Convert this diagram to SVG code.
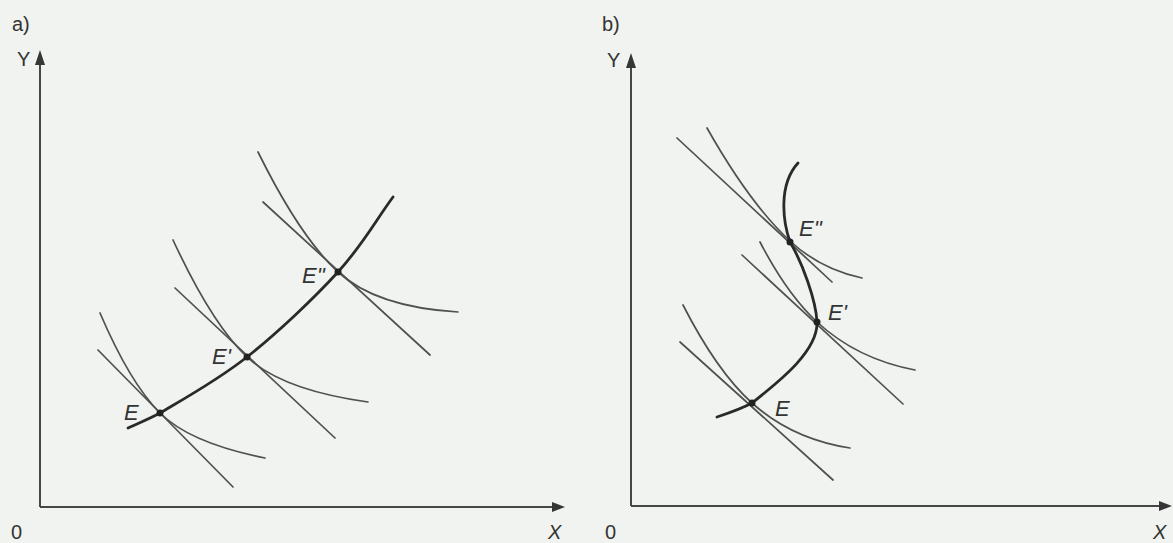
<svg xmlns="http://www.w3.org/2000/svg" width="1173" height="543" viewBox="0 0 1173 543">
  <defs>
    <style>
      .axis { stroke: #464646; stroke-width: 2; fill: none; }
      .arrow { fill: #363636; }
      .path { stroke: #2a2a2a; stroke-width: 2.8; fill: none; stroke-linecap: round; }
      .ic { stroke: #505050; stroke-width: 1.7; fill: none; stroke-linecap: round; }
      .bl { stroke: #505050; stroke-width: 1.7; fill: none; stroke-linecap: round; }
      .dot { fill: #222; }
      .lbl { font-family: "Liberation Sans", Arial, sans-serif; font-size: 20px; fill: #333; }
      .elbl { font-family: "Liberation Sans", Arial, sans-serif; font-size: 22px; font-style: italic; fill: #333; }
    </style>
  </defs>
  <rect x="0" y="0" width="1173" height="543" fill="#f0f3ef"/>

  <!-- Panel a -->
  <g id="panel-a">
    <g id="a-axes">
      <path class="axis" d="M40,507 V62 M40,507 H553"/>
      <polygon class="arrow" points="40,50 35,65 45,65"/>
      <polygon class="arrow" points="565,507 552,502 552,512"/>
      <text class="lbl" x="12" y="31">a)</text>
      <text class="lbl" x="17" y="66">Y</text>
      <text class="lbl" x="11" y="539">0</text>
      <text class="lbl" x="548" y="539" font-style="italic">X</text>
    </g>
    <g id="a-connectors">
      <path class="bl" d="M98,350 L233,487"/>
      <path class="ic" d="M100,313 Q130,383 160,413 Q190,443 265,458"/>
      <path class="bl" d="M175,288 L335,438"/>
      <path class="ic" d="M173,240 Q212,324 247,357 Q282,390 368,402"/>
      <path class="bl" d="M263,202 L430,355"/>
      <path class="ic" d="M258,152 Q300,237 338,272 Q376,307 458,312"/>
      <path class="path" d="M128,428 C139,423 150,418.5 160,413 C179.8,401.2 217.3,380.5 247,357 C276.7,333.5 313.7,298.7 338,272 C362.3,245.3 374.7,222 393,197"/>
    </g>
    <g id="a-E">
      <circle class="dot" cx="160" cy="413" r="3.5"/>
      <text class="elbl" x="124" y="420">E</text>
    </g>
    <g id="a-E1">
      <circle class="dot" cx="247" cy="357" r="3.5"/>
      <text class="elbl" x="212" y="364">E'</text>
    </g>
    <g id="a-E2">
      <circle class="dot" cx="338" cy="272" r="3.5"/>
      <text class="elbl" x="302" y="283">E''</text>
    </g>
  </g>

  <!-- Panel b -->
  <g id="panel-b">
    <g id="b-axes">
      <path class="axis" d="M631,506 V65 M631,506 H1160"/>
      <polygon class="arrow" points="631,53 626,68 636,68"/>
      <polygon class="arrow" points="1172,506 1159,501 1159,511"/>
      <text class="lbl" x="602" y="31">b)</text>
      <text class="lbl" x="607" y="67">Y</text>
      <text class="lbl" x="605" y="539">0</text>
      <text class="lbl" x="1153" y="539" font-style="italic">X</text>
    </g>
    <g id="b-connectors">
      <path class="bl" d="M680,342 L833,480"/>
      <path class="ic" d="M683,305 Q717,371.5 752,403 Q792,439 850,448"/>
      <path class="bl" d="M742,255 L903,404"/>
      <path class="ic" d="M760,242 Q787,294 817,322 Q857,359 915,370"/>
      <path class="bl" d="M677,138 L832,282"/>
      <path class="ic" d="M707,128 Q750,204 790,241 Q820,269 862,278"/>
      <path class="path" d="M717,417 C729,413 741,409 752,403 C777,383 818,352 817,322 C816,300 802,262 790,242 C783,222 778,185 798,163"/>
    </g>
    <g id="b-E">
      <circle class="dot" cx="752" cy="403" r="3.5"/>
      <text class="elbl" x="775" y="416">E</text>
    </g>
    <g id="b-E1">
      <circle class="dot" cx="817" cy="322" r="3.5"/>
      <text class="elbl" x="828" y="320">E'</text>
    </g>
    <g id="b-E2">
      <circle class="dot" cx="790" cy="242" r="3.5"/>
      <text class="elbl" x="799" y="236">E''</text>
    </g>
  </g>
</svg>
